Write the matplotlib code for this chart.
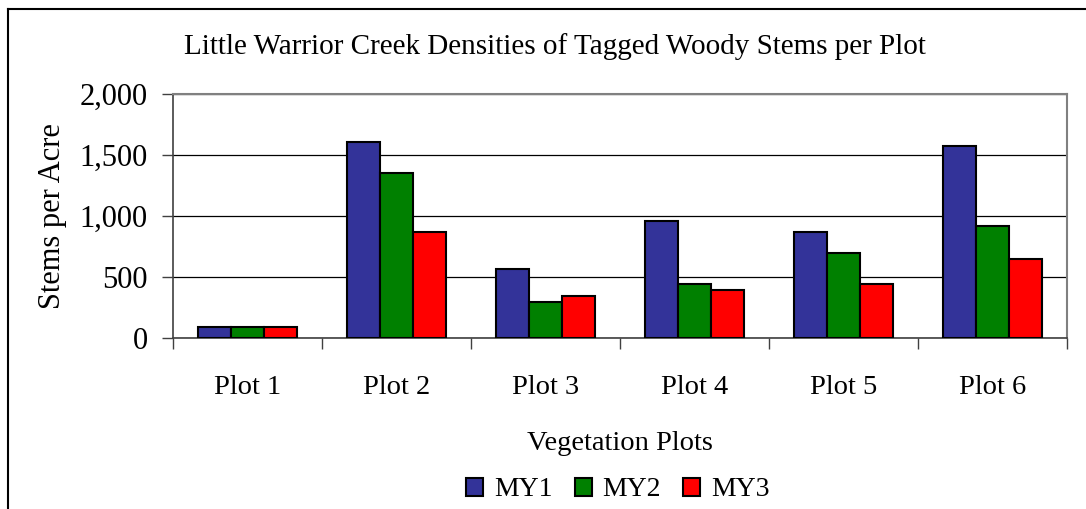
import matplotlib
matplotlib.use("Agg")
import matplotlib.pyplot as plt
import numpy as np
from matplotlib.lines import Line2D
from matplotlib.ticker import FuncFormatter

plt.rcParams["font.family"] = ["Liberation Serif", "DejaVu Serif"]

plots = ["Plot 1", "Plot 2", "Plot 3", "Plot 4", "Plot 5", "Plot 6"]
years = ["MY1", "MY2", "MY3"]
my1 = [93, 1608, 565, 961, 866, 1575]
my2 = [93, 1354, 297, 440, 694, 915]
my3 = [93, 866, 344, 391, 440, 647]
colors = {"MY1": "#333399", "MY2": "#008000", "MY3": "#ff0000"}

W, H = 1086, 509
fig = plt.figure(figsize=(W / 100, H / 100), dpi=100)
ax = fig.add_axes([173 / W, 1 - 338 / H, (1067 - 173) / W, (338 - 94) / H])

x = np.arange(len(plots))
width = 1 / 4.5
for i, (name, vals) in enumerate(zip(years, [my1, my2, my3])):
    ax.bar(x + (i - 1) * width, vals, width=width, color=colors[name],
           edgecolor="black", linewidth=1.5, label=name, zorder=3)

ax.set_xlim(-0.5, len(plots) - 0.5)
ax.set_ylim(0, 2000)
ax.set_yticks([0, 500, 1000, 1500, 2000])
ax.yaxis.set_major_formatter(FuncFormatter(lambda v, p: f"{int(v):,}"))
ax.grid(axis="y", color="black", linewidth=0.9, zorder=1)

# category labels centred, tick marks on category boundaries
ax.set_xticks(x)
ax.set_xticklabels(plots, fontsize=20.5)
ax.tick_params(axis="x", length=0, pad=27)
ax.set_xticks(np.arange(-0.5, len(plots)), minor=True)
ax.tick_params(axis="x", which="minor", length=8, width=1, color="#404040", direction="out")
ax.tick_params(axis="y", length=8, width=1, color="#404040", labelsize=22, pad=10)

for side in ["top", "right"]:
    ax.spines[side].set_color("#808080")
    ax.spines[side].set_linewidth(1.5)
ax.spines["left"].set_color("#404040")
ax.spines["left"].set_linewidth(1.2)
ax.spines["bottom"].set_color("#404040")
ax.spines["bottom"].set_linewidth(1.2)

ax.set_ylabel("Stems per Acre", fontsize=22, labelpad=9)
ax.set_xlabel("Vegetation Plots", fontsize=20.5, labelpad=22)

fig.text(555 / W, 1 - 47 / H, "Little Warrior Creek Densities of Tagged Woody Stems per Plot",
         ha="center", va="center", fontsize=21)

fig.legend(loc="center", bbox_to_anchor=(618 / W, 1 - 490 / H), ncol=3, frameon=False,
           fontsize=20, handlelength=0.6, handleheight=0.6, handletextpad=0.4,
           columnspacing=0.8, borderaxespad=0)

# chart frame (left and top edges)
fig.add_artist(Line2D([8 / W, 8 / W], [0, 1 - 9 / H], transform=fig.transFigure,
                      color="black", linewidth=1.5))
fig.add_artist(Line2D([8 / W, 1], [1 - 9 / H, 1 - 9 / H], transform=fig.transFigure,
                      color="black", linewidth=1.5))

fig.savefig("out.png", dpi=100)
